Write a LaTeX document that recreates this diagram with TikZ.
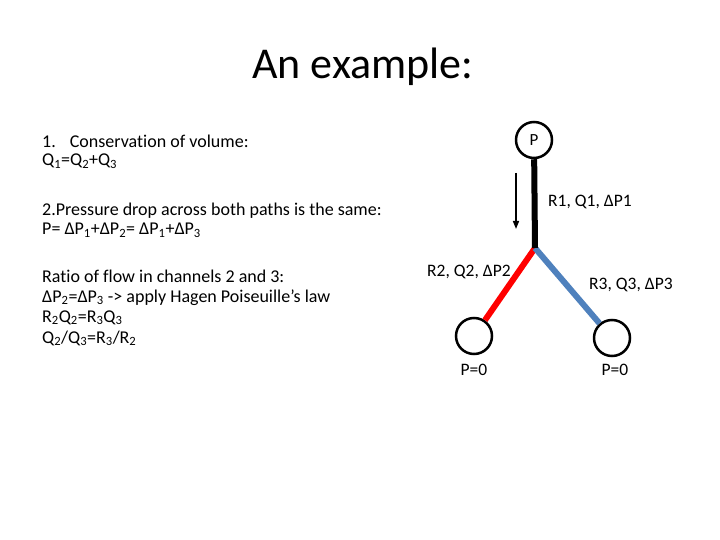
\documentclass[tikz,border=0pt]{standalone}
\usepackage{fontspec}
\setmainfont{Carlito}[Ligatures=NoCommon]
\usetikzlibrary{arrows.meta}
\definecolor{pipeblue}{RGB}{79,129,189}
\newcommand{\sub}[1]{\textsubscript{#1}}
\begin{document}
\begin{tikzpicture}[x=1pt, y=-1pt,
  valve/.style={circle, draw, line width=2.5pt, minimum size=36pt, inner sep=0pt, font=\fontsize{17}{18}\selectfont},
  txt/.style={anchor=base west, inner sep=0pt, font=\fontsize{18}{20}\selectfont},
  lbl/.style={anchor=west, inner sep=0pt, font=\fontsize{17.5}{18}\selectfont},
  pipe/.style={line width=6pt}]
  \useasboundingbox (0,0) rectangle (720,540);
  % Header
  \node (title) [anchor=base, inner sep=0pt] at (363, 79) {\fontsize{44}{48}\selectfont An example:};
  % Text on the left
  \node (cons) [txt] at (42, 148) {1.\hspace{14pt}Conservation of volume:};
  \node (consq) [txt] at (42, 166) {Q\sub{1}=Q\sub{2}+Q\sub{3}};
  \node (drop) [txt] at (42, 215) {2.Pressure drop across both paths is the same:};
  \node (dropp) [txt] at (42, 235) {P= ΔP\sub{1}+ΔP\sub{2}= ΔP\sub{1}+ΔP\sub{3}};
  \node (ratio) [txt] at (42, 282) {Ratio of flow in channels 2 and 3:};
  \node (hagen) [txt] at (42, 302) {ΔP\sub{2}=ΔP\sub{3} -> apply Hagen Poiseuille’s law};
  \node (rq) [txt] at (42, 322) {R\sub{2}Q\sub{2}=R\sub{3}Q\sub{3}};
  \node (qq) [txt] at (42, 343) {Q\sub{2}/Q\sub{3}=R\sub{3}/R\sub{2}};
  % Nodes
  \node (P) [valve] at (534, 140) {P};
  \node (out2) [valve] at (474, 336) {};
  \node (out3) [valve] at (612, 338) {};
  \coordinate (J) at (535, 248);
  % Pipes
  \draw[pipe, red] (J) -- (out2);
  \draw[pipe, pipeblue] (J) -- (out3);
  \draw[pipe] (P) -- (J);
  % Labels
  \node (lab1) [lbl] at (548, 202) {R1, Q1, ΔP1};
  \node (lab2) [lbl] at (427, 272) {R2, Q2, ΔP2};
  \node (lab3) [lbl] at (589, 285) {R3, Q3, ΔP3};
  \node (p2) [lbl, anchor=center] at (474, 370) {P=0};
  \node (p3) [lbl, anchor=center] at (615, 370) {P=0};
  % Flow arrow
  \coordinate (flowA) at (516, 173);
  \coordinate (flowB) at (516, 229);
  \draw[-{Triangle[length=8pt, width=6pt]}, line width=1.5pt] (flowA) -- (flowB);
\end{tikzpicture}
\end{document}
